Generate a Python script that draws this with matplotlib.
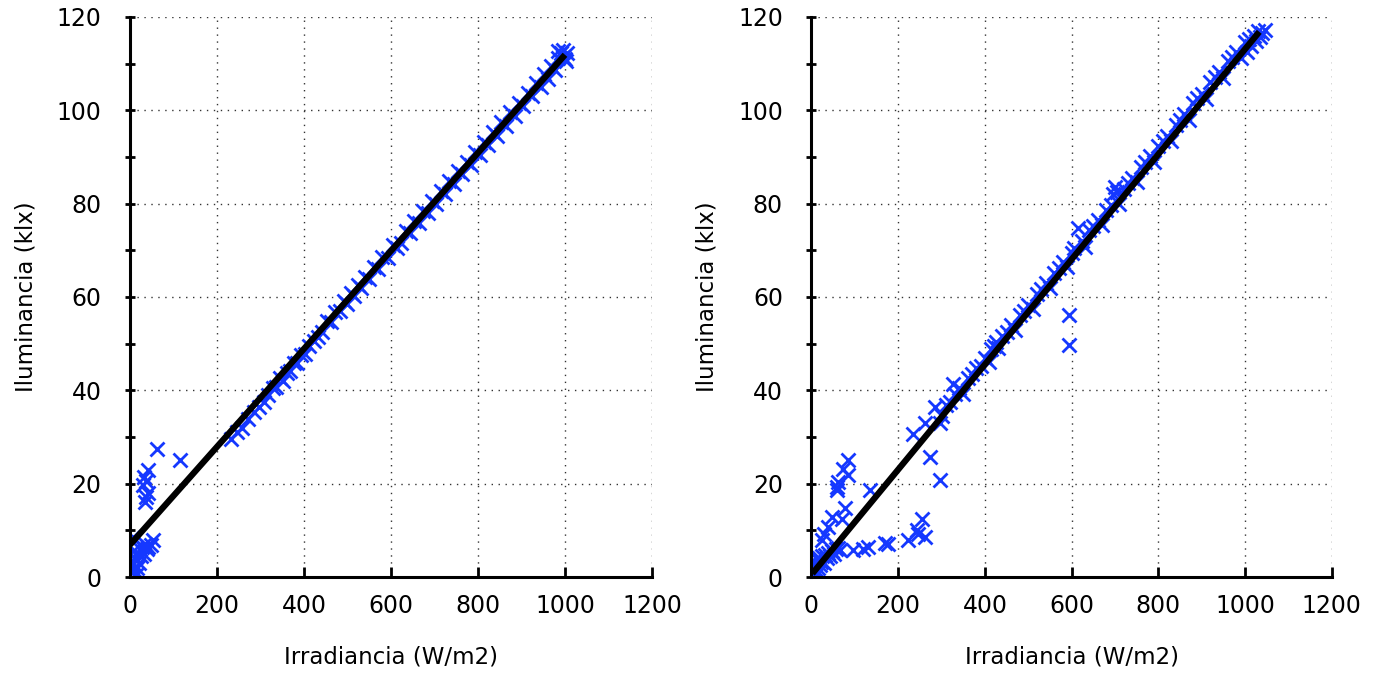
import matplotlib
matplotlib.use('Agg')

import matplotlib.pyplot as plt
from matplotlib.ticker import MultipleLocator

# Left panel: measured points (irradiance W/m2, illuminance klx)
left_x = [2, 3, 5, 6, 8, 8, 10, 12, 14, 15, 18, 20, 22, 25, 28, 32, 35, 40, 42, 48, 54,
          31, 35, 37, 32, 42, 37, 42, 63, 115,
          232, 245, 258, 272, 285, 296, 308, 318, 328, 336, 344, 352, 360, 368, 376, 384,
          392, 402, 412, 422, 432, 442, 452, 462, 472, 482, 492, 500, 508, 516, 524, 532,
          540, 550, 560, 570, 580, 592, 604, 614, 624, 634, 644, 654, 664, 674, 684, 694,
          704, 714, 724, 734, 744, 754, 764, 774, 784, 794, 804, 814, 824, 834, 844, 854,
          864, 874, 884, 894, 904, 914, 924, 934, 944, 952, 960, 968, 976, 984, 990, 996,
          1000, 1004, 1002, 995, 985]
left_y = [1.0, 3.5, 2.5, 5.5, 3.0, 8.5, 1.5, 4.0, 0.5, 2.0, 5.0, 3.0, 6.0, 4.5, 6.5, 5.0, 7.0, 6.0, 6.5, 6.8, 7.9,
          19.7, 16.1, 17.2, 21.5, 17.9, 20.5, 22.9, 27.4, 25.1,
          29.6, 31.0, 32.0, 33.8, 35.4, 36.5, 37.6, 39.0, 40.5, 40.8, 42.6, 42.0, 43.7, 44.2, 45.8, 45.9,
          47.5, 47.8, 49.5, 50.6, 51.5, 52.4, 54.8, 54.6, 56.8, 56.9, 59.2, 58.5, 60.9, 60.2, 62.5, 61.9,
          64.2, 63.8, 66.4, 65.9, 68.5, 68.3, 71.2, 70.6, 71.5, 74.2, 73.7, 76.3, 75.8, 78.4, 77.9, 80.6,
          80.0, 82.7, 82.0, 84.8, 84.2, 86.9, 86.3, 89.0, 88.3, 91.1, 90.5, 93.3, 92.5, 95.3, 94.6, 97.5,
          96.7, 99.6, 98.8, 101.6, 100.9, 103.8, 103.0, 105.9, 105.1, 107.8, 106.8, 109.4, 108.6, 111.2, 112.3, 113.0,
          111.0, 112.2, 110.5, 111.5, 112.8]

# Right panel: measured points
right_x = [2, 3, 5, 6, 8, 9, 11, 12, 14, 16, 18, 20, 22, 25, 28, 31, 35, 39, 43, 47, 52, 57, 62, 66,
           24, 30, 39, 47, 70, 77, 58, 60, 62, 73, 85, 85, 135,
           96, 120, 131, 170, 177, 223, 243, 245, 254, 262, 273, 296, 595, 595,
           235, 262, 285, 300, 296, 327, 350,
           310, 320, 330, 340, 360, 370, 380, 390, 400, 410, 415, 420, 425, 430, 440, 450,
           460, 470, 480, 490, 500, 510, 520, 530, 540, 550, 560, 570, 580, 590, 600, 605,
           615, 625, 630, 640, 650, 660, 670, 680, 690, 695, 700, 705, 710, 720, 730, 740,
           750, 760, 770, 780, 790, 800, 810, 820, 830, 840, 850, 860, 870, 880, 890, 900,
           910, 920, 930, 940, 950, 960, 970, 980, 990, 1000, 1005, 1010, 1015, 1020, 1025, 1030,
           1035, 1040, 1045]
right_y = [0.8, 2.5, 1.2, 3.5, 1.5, 2.8, 0.6, 3.8, 2.0, 1.0, 4.0, 2.5, 3.2, 4.5, 3.0, 4.8, 4.0, 5.2, 4.6, 5.5, 5.0, 6.0, 6.2, 5.8,
           7.9, 9.3, 10.7, 12.9, 12.5, 14.7, 18.7, 19.3, 20.4, 23.2, 21.8, 25.0, 18.7,
           5.7, 6.1, 6.4, 7.2, 7.0, 7.9, 10.0, 9.3, 12.5, 8.5, 25.7, 20.7, 56.1, 49.7,
           30.7, 32.9, 36.4, 34.6, 32.9, 41.4, 39.3,
           36.8, 37.5, 39.2, 40.5, 42.6, 43.5, 44.8, 45.3, 47.0, 46.0, 48.8, 49.5, 50.3, 49.0, 51.6, 52.5,
           54.0, 53.0, 56.1, 57.0, 58.3, 57.5, 60.6, 61.8, 63.0, 62.0, 65.2, 66.3, 67.5, 66.5, 69.5, 70.5,
           74.7, 72.0, 70.8, 74.3, 75.2, 76.5, 75.5, 78.6, 79.8, 82.0, 83.5, 82.5, 80.0, 83.2, 84.5, 85.5,
           84.6, 87.8, 88.9, 90.2, 89.0, 92.4, 93.5, 94.6, 93.5, 96.9, 98.0, 99.2, 98.0, 101.5, 102.6, 103.6,
           102.5, 106.0, 107.1, 108.3, 107.0, 110.5, 111.5, 112.6, 111.3, 114.6, 112.5, 115.3, 113.8, 116.0, 114.8, 117.0,
           115.8, 116.5, 117.2]

# Linear fits drawn on each panel (slope, intercept, x range)
left_fit = [0.105, 6.9]
left_fit_range = [0, 1000]
right_fit = [0.1126, 0.5]
right_fit_range = [2, 1033]

x_label = "Irradiancia (W/m2)"
y_label = "Iluminancia (klx)"

plt.rcParams['font.family'] = ['DejaVu Sans']

fig = plt.figure(figsize=(13.77, 6.77), dpi=100)
ax1 = fig.add_axes([0.0944, 0.1477, 0.3791, 0.8272])
ax2 = fig.add_axes([0.5893, 0.1477, 0.3778, 0.8272])

panels = [
    (ax1, left_x, left_y, left_fit, left_fit_range),
    (ax2, right_x, right_y, right_fit, right_fit_range),
]

for ax, xs, ys, fit, rng in panels:
    ax.plot(xs, ys, linestyle='none', marker='x', markersize=10.5,
            markeredgewidth=2.0, color='#1538ff', zorder=3)
    fx = rng
    fy = [fit[0] * v + fit[1] for v in rng]
    ax.plot(fx, fy, color='black', linewidth=4.5, solid_capstyle='butt', zorder=4)

    ax.set_xlim(0, 1200)
    ax.set_ylim(0, 120)
    ax.xaxis.set_major_locator(MultipleLocator(200))
    ax.yaxis.set_major_locator(MultipleLocator(20))
    ax.yaxis.set_minor_locator(MultipleLocator(10))

    ax.grid(True, which='major', linestyle=(0, (1, 4)), color='#333333', linewidth=1.0)
    ax.set_axisbelow(True)

    for side in ['top', 'right']:
        ax.spines[side].set_visible(False)
    for side in ['left', 'bottom']:
        ax.spines[side].set_linewidth(2.2)
        ax.spines[side].set_zorder(5)

    ax.tick_params(axis='x', which='major', direction='in', length=7, width=2,
                   labelsize=17, pad=12)
    ax.tick_params(axis='y', which='both', direction='inout', length=7, width=2,
                   labelsize=17, pad=17)

    ax.set_xlabel(x_label, fontsize=16.5, labelpad=20)
    ax.set_ylabel(y_label, fontsize=16.5, labelpad=14)

fig.savefig('out.png', dpi=100)
